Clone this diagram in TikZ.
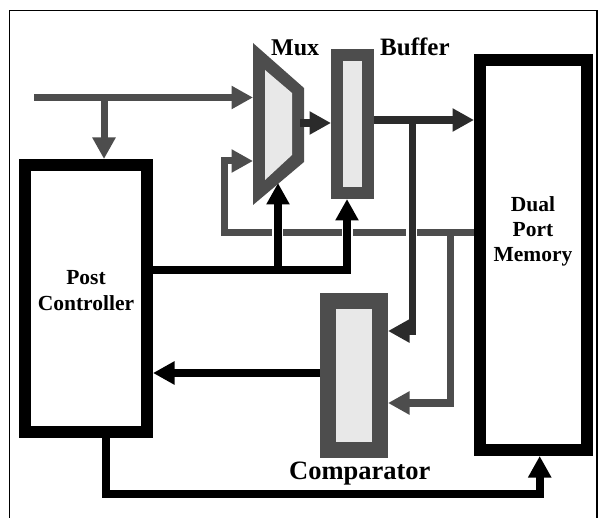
\documentclass[tikz,border=0pt]{standalone}
\usepackage{fontspec}
\setmainfont{Liberation Serif}
\usetikzlibrary{arrows.meta}
\definecolor{mgray}{HTML}{4D4D4D}
\definecolor{dgray}{HTML}{2B2B2B}
\definecolor{lgray}{HTML}{E8E8E8}
\begin{document}
\begin{tikzpicture}[x=1pt,y=-1pt,
  blk/.style={draw=black,line width=12pt,fill=white,inner sep=0pt},
  reg/.style={draw=mgray,fill=lgray,inner sep=0pt},
  lbl/.style={font=\bfseries\fontsize{21.5}{26}\selectfont,inner sep=0pt,anchor=base},
  tipA/.style={-{Triangle[length=21.5pt,width=22pt]}},
  gline/.style={draw=mgray,line width=7pt},
  dline/.style={draw=dgray,line width=7.5pt},
  kline/.style={draw=black,line width=8pt},
  gap/.style={draw=white,line width=11pt}
]
\useasboundingbox (0,0) rectangle (605,518);
\clip (0,0) rectangle (605,518);
\draw[line width=1.3pt] (9.5,530) -- (9.5,10.5) -- (597,10.5) -- (597,530);

% blocks
\node[blk,minimum width=122pt,minimum height=267pt] (pc) at (86,298.5) {};
\node[blk,minimum width=106.5pt,minimum height=390pt] (dpm) at (533.25,255) {};
\node[reg,line width=12pt,minimum width=31pt,minimum height=138pt] (buf) at (352.5,124) {};
\node[reg,line width=16pt,minimum width=52pt,minimum height=149pt] (cmp) at (354,375.5) {};

% mux
\fill[mgray] (253,43) -- (304,88) -- (304,162) -- (253,205) -- cycle;
\fill[lgray] (265,70) -- (292,93) -- (292,155) -- (265,180) -- cycle;
\coordinate (muxin1) at (253,97.5);
\coordinate (muxin2) at (253,161);
\coordinate (muxout) at (300,123);
\coordinate (muxsel) at (278,183);

% labels
\node[lbl] at (86,285) {Post};
\node[lbl] at (86,311) {Controller};
\node[lbl] at (533,212) {Dual};
\node[lbl] at (533,237) {Port};
\node[lbl] at (533,262) {Memory};
\node[lbl,anchor=base west,font=\bfseries\fontsize{24}{28}\selectfont] at (271,56) {Mux};
\node[lbl,anchor=base west,font=\bfseries\fontsize{25}{30}\selectfont] at (380,56) {Buffer};
\node[lbl,anchor=base west,font=\bfseries\fontsize{26.5}{32}\selectfont] at (289,479) {Comparator};

% input
\coordinate (in) at (34,97.5);
\coordinate (j1) at (104,97.5);
\draw[gline,tipA] (in) -- (muxin1);
\draw[gline,tipA] (j1) -- (j1 |- pc.north);

% feedback from memory
\draw[gline,tipA] (dpm.west |- 0,233) -- (224.5,233) -- (224.5,161) -- (muxin2);
\draw[gline,tipA] (450,233) -- (450,403) -- (cmp.east |- 0,403);
\draw[gap] (277,228) -- (277,238);
\draw[gap] (347,228) -- (347,238);
\draw[gap] (411.5,228) -- (411.5,238);

% data path
\draw[dline,tipA] (muxout) -- (buf.west |- muxout);
\draw[dline,tipA] (buf.east |- 0,120) -- (dpm.west |- 0,120);
\draw[dline,tipA] (412.5,120) -- (412.5,331) -- (cmp.east |- 0,331);

% control
\draw[kline,tipA] (pc.east |- 0,270) -- (347,270) -- (347,0 |- buf.south);
\draw[kline,tipA] (278,270) -- (muxsel);
\draw[kline,tipA] (cmp.west |- 0,373) -- (pc.east |- 0,373);
\draw[kline,tipA] (pc.south -| 106,0) -- (106,494) -- (539.7,494) -- (dpm.south -| 539.7,0);
\end{tikzpicture}
\end{document}
